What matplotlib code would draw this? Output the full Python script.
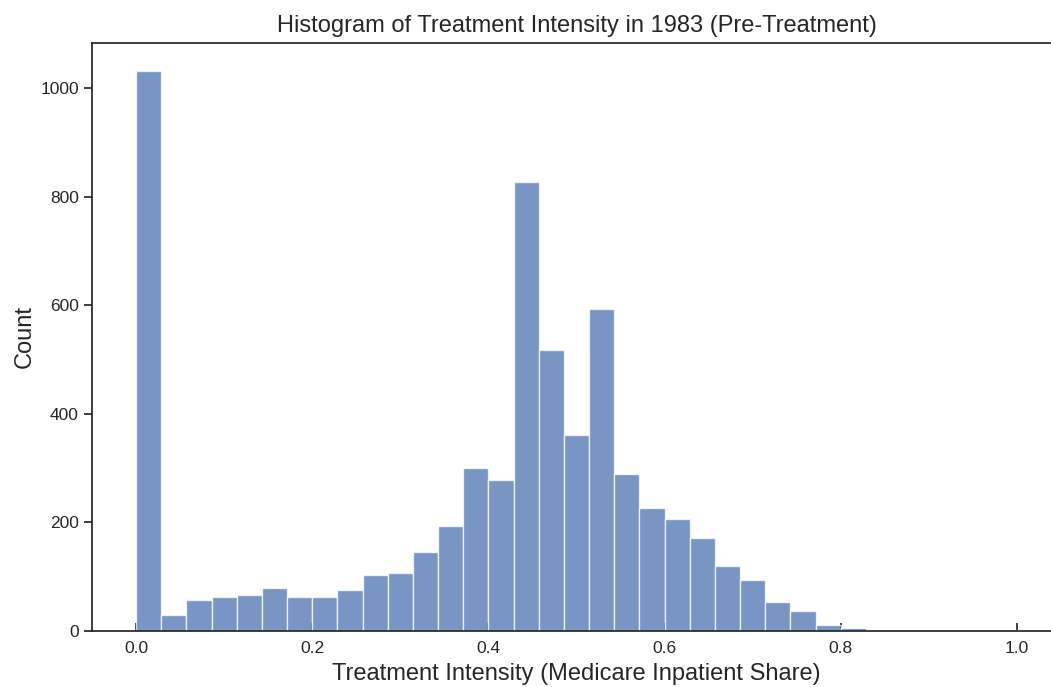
import numpy as np
import matplotlib
matplotlib.use("Agg")
import matplotlib.pyplot as plt

plt.rcParams['font.family'] = ['Liberation Sans', 'DejaVu Sans']

# 35 bins between 0 and 1 (counts)
bin_lo = 0.0
bin_hi = 1.0
n_bins = 35
counts = [1032, 29, 58, 62, 67, 80, 62, 63, 76, 104, 106, 146, 193, 300, 278,
          827, 517, 361, 594, 290, 227, 207, 172, 120, 94, 53, 36, 11, 6, 2,
          0, 0, 0, 0, 1]

title = "Histogram of Treatment Intensity in 1983 (Pre-Treatment)"
xlabel = "Treatment Intensity (Medicare Inpatient Share)"
ylabel = "Count"

edges = np.linspace(bin_lo, bin_hi, n_bins + 1)
centers = (edges[:-1] + edges[1:]) / 2

ink = "#262626"

fig = plt.figure(figsize=(10.51, 6.87), dpi=100)
ax = fig.add_axes([0.0875, 0.0815, 0.922, 0.856])

ax.hist(centers, bins=edges, weights=counts, color="#4c72b0", alpha=0.75,
        edgecolor="white", linewidth=1.0, zorder=2)

ax.set_xlim(-0.05, 1.05)
ax.set_ylim(0, max(counts) * 1.05)
ax.set_xticks([0.0, 0.2, 0.4, 0.6, 0.8, 1.0])
ax.set_yticks([0, 200, 400, 600, 800, 1000])

for s in ax.spines.values():
    s.set_color(ink)
    s.set_linewidth(1.25)
    s.set_zorder(3)

ax.tick_params(axis='x', direction='in', length=6, width=1.25, color=ink,
               labelsize=12.5, labelcolor=ink, pad=7)
ax.tick_params(axis='y', direction='out', length=6, width=1.25, color=ink,
               labelsize=12.5, labelcolor=ink)
for t in ax.xaxis.get_ticklines():
    t.set_zorder(1)

ax.set_title(title, fontsize=17, color=ink, pad=8)
ax.set_xlabel(xlabel, fontsize=17, color=ink, labelpad=5.5)
ax.set_ylabel(ylabel, fontsize=17, color=ink, labelpad=3)

fig.savefig("out.png", dpi=100, facecolor="white")
